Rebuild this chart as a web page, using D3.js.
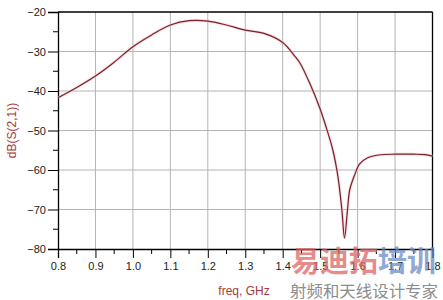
<!DOCTYPE html>
<html>
<head>
<meta charset="utf-8">
<script src="https://cdn.jsdelivr.net/npm/d3@7"></script>
<style>
  body { margin: 0; background: #fff; }
  svg { display: block; font-family: "Liberation Sans", Arial, sans-serif; }
</style>
</head>
<body>
<div id="chart"></div>
<script>
// values
var freq = [0.80, 0.85, 0.90, 0.95, 1.00, 1.05, 1.10, 1.15, 1.20, 1.25, 1.30, 1.35, 1.40, 1.43, 1.446,
            1.472, 1.499, 1.5165, 1.534, 1.5475, 1.558, 1.565, 1.573, 1.579, 1.592, 1.605, 1.627, 1.657,
            1.70, 1.75, 1.78, 1.80];
var s21 = [-41.7, -39.1, -36.2, -32.7, -28.8, -25.8, -23.3, -22.2, -22.3, -23.3, -24.6, -25.4, -27.7, -30.9, -32.9,
           -38.0, -44.3, -49.3, -55.0, -61.7, -70.1, -77.2, -70.1, -65.0, -61.3, -58.5, -56.9, -56.2,
           -56.0, -56.0, -56.1, -56.5];
var xTicks = [0.8, 0.9, 1.0, 1.1, 1.2, 1.3, 1.4, 1.5, 1.6, 1.7, 1.8];
var yTicks = [-20, -30, -40, -50, -60, -70, -80];

var W = 443, H = 300;
var margin = {top: 12, right: 10.5, bottom: 51, left: 58};
var width = W - margin.left - margin.right,
    height = H - margin.top - margin.bottom;

var root = d3.select("#chart").append("svg").attr("width", W).attr("height", H);
var svg = root.append("g").attr("transform", "translate(" + margin.left + "," + margin.top + ")");

var x = d3.scaleLinear().domain([0.8, 1.8]).range([0, width]);
var y = d3.scaleLinear().domain([-80, -20]).range([height, 0]);

// grid
svg.append("g").selectAll("line").data(xTicks.slice(1, -1)).enter().append("line")
  .attr("x1", function(d){return x(d);}).attr("x2", function(d){return x(d);})
  .attr("y1", 0).attr("y2", height)
  .attr("stroke", "#b4b4b4").attr("stroke-width", 1);
svg.append("g").selectAll("line").data(yTicks.slice(1, -1)).enter().append("line")
  .attr("x1", 0).attr("x2", width)
  .attr("y1", function(d){return y(d);}).attr("y2", function(d){return y(d);})
  .attr("stroke", "#b4b4b4").attr("stroke-width", 1);

// minor ticks
var xMinor = d3.range(0.85, 1.8, 0.1);
var yMinor = d3.range(-25, -80, -10);
svg.append("g").selectAll("line").data(xMinor).enter().append("line")
  .attr("x1", function(d){return x(d);}).attr("x2", function(d){return x(d);})
  .attr("y1", height).attr("y2", height + 5).attr("stroke", "#000");
svg.append("g").selectAll("line").data(yMinor).enter().append("line")
  .attr("x1", -5).attr("x2", 0)
  .attr("y1", function(d){return y(d);}).attr("y2", function(d){return y(d);}).attr("stroke", "#000");

// axes
var xAxis = svg.append("g").attr("transform", "translate(0," + height + ")")
  .call(d3.axisBottom(x).tickValues(xTicks).tickFormat(d3.format(".1f")).tickSize(9).tickPadding(4));
var yAxis = svg.append("g")
  .call(d3.axisLeft(y).tickValues(yTicks).tickSize(10).tickPadding(2));
[xAxis, yAxis].forEach(function(a){
  a.select(".domain").attr("stroke", "#000").attr("stroke-width", 1.3);
  a.selectAll(".tick line").attr("stroke", "#000");
  a.selectAll("text").attr("font-size", 11).attr("fill", "#222")
    .attr("font-family", "Liberation Sans, Arial, sans-serif");
});

// frame top and right
svg.append("line").attr("x1", 0).attr("x2", width).attr("y1", 0).attr("y2", 0)
  .attr("stroke", "#000").attr("stroke-width", 1.3);
svg.append("line").attr("x1", width).attr("x2", width).attr("y1", 0).attr("y2", height)
  .attr("stroke", "#000").attr("stroke-width", 1.3);

// trace
var pts = freq.map(function(f, i){ return [f, s21[i]]; });
var traceLine = d3.line().x(function(d){return x(d[0]);}).y(function(d){return y(d[1]);})
  .curve(d3.curveCatmullRom.alpha(0.5));
svg.append("path").datum(pts).attr("d", traceLine)
  .attr("fill", "none").attr("stroke", "#f4c4c4").attr("stroke-width", 3).attr("opacity", 0.6);
svg.append("path").datum(pts).attr("d", traceLine)
  .attr("fill", "none").attr("stroke", "#7a1f2b").attr("stroke-width", 1.2);

// axis titles
root.append("text").attr("transform", "translate(16," + (margin.top + height / 2) + ") rotate(-90)")
  .attr("text-anchor", "middle").attr("font-size", 12).attr("fill", "#a83838").text("dB(S(2,1))");
root.append("text").attr("x", 244).attr("y", 295)
  .attr("text-anchor", "middle").attr("font-size", 12).attr("fill", "#a83838").text("freq, GHz");

// watermark
var wm = root.append("text").attr("x", 291).attr("y", 272)
  .attr("font-family", "Noto Sans CJK SC").attr("font-weight", "bold").attr("font-size", 29)
  .attr("opacity", 0.75);
wm.append("tspan").attr("fill", "#e06464").text("易迪拓");
wm.append("tspan").attr("fill", "#6b8cc8").text("培训");
root.append("text").attr("x", 290).attr("y", 297)
  .attr("font-family", "Noto Sans CJK SC").attr("font-size", 15.5).attr("fill", "#8c8c8c")
  .attr("textLength", 148).attr("lengthAdjust", "spacingAndGlyphs").text("射频和天线设计专家");
</script>
</body>
</html>
